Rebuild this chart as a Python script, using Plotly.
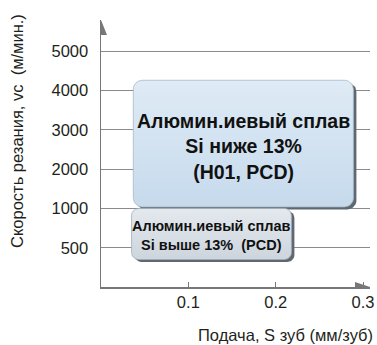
import numpy as np
import plotly.graph_objects as go

# ---- data ----
speed_ticks = [500, 1000, 2000, 3000, 4000, 5000]
feed_ticks = [0.1, 0.2, 0.3]
region_labels = [
    "<b>Алюмин.иевый сплав<br>Si ниже 13%<br>(H01, PCD)</b>",
    "<b>Алюмин.иевый сплав<br>Si выше 13%\u00a0\u00a0(PCD)</b>",
]
region_feed_min = [0.037, 0.035]
region_feed_max = [0.289, 0.218]
region_speed_min = [1040, 350]
region_speed_max = [4265, 1000]

# ---- layout geometry ----
W, H = 377, 345
ML, MR, MT, MB = 101, 7, 20, 58
PW, PH = W - ML - MR, H - MT - MB
XR = [0, 0.308]
YR = [0, 6.8]
px_x = PW / (XR[1] - XR[0])
px_y = PH / (YR[1] - YR[0])

speed_levels = [0] + speed_ticks
def speed_pos(v):
    return np.interp(v, speed_levels, np.arange(len(speed_levels)))

def rounded_rect(x0, x1, y0, y1, r_px, dx_px=0, dy_px=0, n=8):
    X0, X1 = x0 * px_x + dx_px, x1 * px_x + dx_px
    Y0, Y1 = y0 * px_y - dy_px, y1 * px_y - dy_px
    pts = []
    corners = [
        (X1 - r_px, Y1 - r_px, 0, 90),
        (X0 + r_px, Y1 - r_px, 90, 180),
        (X0 + r_px, Y0 + r_px, 180, 270),
        (X1 - r_px, Y0 + r_px, 270, 360),
    ]
    for cx, cy, a0, a1 in corners:
        for a in np.linspace(np.radians(a0), np.radians(a1), n):
            pts.append((cx + r_px * np.cos(a), cy + r_px * np.sin(a)))
    pts.append(pts[0])
    xs = [p[0] / px_x for p in pts]
    ys = [p[1] / px_y for p in pts]
    return xs, ys

fills = [
    ("#c6daec", "#dfebf6", "#a7b9c9"),
    ("#cdd5dd", "#e4e9ee", "#a3adb6"),
]
radii = [9, 7]
shifts = [-3, -2]
text_fonts = [
    dict(family="Liberation Sans, Arial, sans-serif", size=19.5, color="#111111"),
    dict(family="Liberation Sans, Arial, sans-serif", size=14.5, color="#111111"),
]

fig = go.Figure()
annotations = []
for i in range(len(region_labels)):
    x0, x1 = region_feed_min[i], region_feed_max[i]
    y0, y1 = speed_pos(region_speed_min[i]), speed_pos(region_speed_max[i])
    sx, sy = rounded_rect(x0, x1, y0, y1, radii[i], dx_px=3, dy_px=2.5)
    fig.add_trace(go.Scatter(x=sx, y=sy, mode="lines", fill="toself",
                             fillcolor="#5f6870", line=dict(width=0, color="#5f6870"),
                             hoverinfo="skip", showlegend=False))
    bx, by = rounded_rect(x0, x1, y0, y1, radii[i])
    c0, c1, lc = fills[i]
    fig.add_trace(go.Scatter(x=bx, y=by, mode="lines", fill="toself",
                             fillgradient=dict(type="vertical",
                                               colorscale=[[0, c0], [1, c1]],
                                               start=y0, stop=y1),
                             line=dict(width=0.8, color=lc),
                             hoverinfo="skip", showlegend=False))
    annotations.append(dict(x=(x0 + x1) / 2, y=(y0 + y1) / 2, xref="x", yref="y",
                            text=region_labels[i], showarrow=False,
                            font=text_fonts[i], yshift=shifts[i],
                            xanchor="center", yanchor="middle", align="center"))

axis_font = dict(family="Liberation Sans, Arial, sans-serif", size=16.5, color="#231f20")
title_font = dict(family="Liberation Sans, Arial, sans-serif", size=16.5, color="#231f20")

annotations.append(dict(text="Скорость резания, vc\u00a0\u00a0(м/мин.)", textangle=-90,
                        xref="paper", yref="paper",
                        x=(17 - ML) / PW, y=(H - MB - 131) / PH,
                        xanchor="center", yanchor="middle", showarrow=False,
                        font=title_font))
annotations.append(dict(text="Подача, S зуб (мм/зуб)",
                        xref="paper", yref="paper",
                        x=(375 - ML) / PW, y=(H - MB - 335) / PH,
                        xanchor="right", yanchor="middle", showarrow=False,
                        font=title_font))

shapes = [
    dict(type="path", xref="x", yref="y", xsizemode="pixel", ysizemode="pixel",
         xanchor=0, yanchor=YR[1], path="M0,0 L6,-15 L0,-15 Z",
         fillcolor="#777777", line=dict(width=0)),
    dict(type="path", xref="x", yref="y", xsizemode="pixel", ysizemode="pixel",
         xanchor=XR[1], yanchor=0, path="M0,0 L-15,5 L-15,0 Z",
         fillcolor="#777777", line=dict(width=0)),
]

fig.update_layout(
    width=W, height=H,
    margin=dict(l=ML, r=MR, t=MT, b=MB, autoexpand=False),
    paper_bgcolor="white", plot_bgcolor="white",
    annotations=annotations, shapes=shapes,
    xaxis=dict(range=XR, tickvals=feed_ticks, ticktext=[str(v) for v in feed_ticks],
               showgrid=False, zeroline=False, showline=True, linecolor="#777777",
               linewidth=1.5, ticks="inside", ticklen=5, tickcolor="#777777",
               tickfont=axis_font, fixedrange=True, automargin=False),
    yaxis=dict(range=YR, tickvals=[float(speed_pos(v)) for v in speed_ticks],
               ticktext=[str(v) for v in speed_ticks],
               showgrid=True, gridcolor="#8a8a8a", gridwidth=1, zeroline=False,
               showline=True, linecolor="#777777", linewidth=1.5, ticks="",
               ticklabelstandoff=8, tickfont=axis_font, fixedrange=True, automargin=False),
)
fig.write_html("out.html", config={"displayModeBar": False, "staticPlot": True},
               post_script="document.body.style.margin='0';document.body.style.overflow='hidden';")
